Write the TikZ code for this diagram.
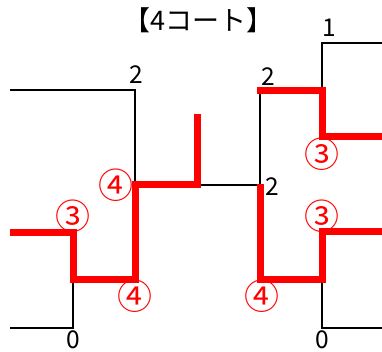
\documentclass[tikz,border=0pt]{standalone}
\usepackage{fontspec}
\newfontfamily\jpfont{Noto Sans CJK JP}
\begin{document}
\begin{tikzpicture}[x=1pt,y=-1pt,
  blk/.style={draw=black,line width=2pt,line cap=butt,line join=miter},
  redl/.style={draw=red,line width=7pt,line cap=butt,line join=miter},
  lbl/.style={inner sep=0pt,font=\jpfont\fontsize{24.5}{24.5}\selectfont,text=black},
  ttl/.style={inner sep=0pt,font=\jpfont\fontsize{27}{27}\selectfont,text=black},
  circ/.style={inner sep=0pt,font=\jpfont\fontsize{35}{35}\selectfont,text=red}]
\useasboundingbox (0,0) rectangle (382,352);
% black bracket lines
\coordinate (a1) at (10,90);
\coordinate (a2) at (135,90);
\coordinate (a3) at (135,185);
\coordinate (b1) at (260,185);
\coordinate (b2) at (260,91);
\coordinate (c1) at (322,91);
\coordinate (c2) at (322,43);
\coordinate (c3) at (382,43);
\coordinate (d1) at (10,328);
\coordinate (d2) at (73,328);
\coordinate (d3) at (73,279);
\coordinate (e1) at (322,279);
\coordinate (e2) at (322,328);
\coordinate (e3) at (382,328);
\draw[blk] (a1) -- (a2) -- (a3) -- (b1) -- (b2);
\draw[blk] (c1) -- (c2) -- (c3);
\draw[blk] (d3) -- (d2) -- (d1);
\draw[blk] (e1) -- (e2) -- (e3);
% red winning paths
\coordinate (r1) at (10,233);
\coordinate (r2) at (73,233);
\coordinate (r3) at (135,279);
\coordinate (r4) at (197,185);
\coordinate (r5) at (197,114);
\draw[redl] (r1) -- (r2) -- (d3) -- (r3) -- (a3) -- (r4) -- (r5);
\coordinate (s1) at (257,91);
\coordinate (s2) at (322,137);
\coordinate (s3) at (382,137);
\draw[redl] (s1) -- (c1) -- (s2) -- (s3);
\coordinate (t1) at (260,184);
\coordinate (t2) at (260,279);
\coordinate (t3) at (322,232);
\coordinate (t4) at (382,232);
\draw[redl] (t1) -- (t2) -- (e1) -- (t3) -- (t4);
% title
\node[ttl] (title) at (198.5,20) {【4コート】};
% score labels
\node[lbl] (n1) at (329,28) {1};
\node[lbl] (n2a) at (136,75) {2};
\node[lbl] (n2b) at (268,77) {2};
\node[lbl] (n2c) at (272,187) {2};
\node[lbl] (n0a) at (73,340) {0};
\node[lbl] (n0b) at (322,340) {0};
% circled numbers
\node[circ] (m1) at (322,154) {③};
\node[circ] (m2) at (73,216) {③};
\node[circ] (m3) at (322,216) {③};
\node[circ] (m4) at (115.5,185) {④};
\node[circ] (m5) at (135,296) {④};
\node[circ] (m6) at (262,296) {④};
\end{tikzpicture}
\end{document}
